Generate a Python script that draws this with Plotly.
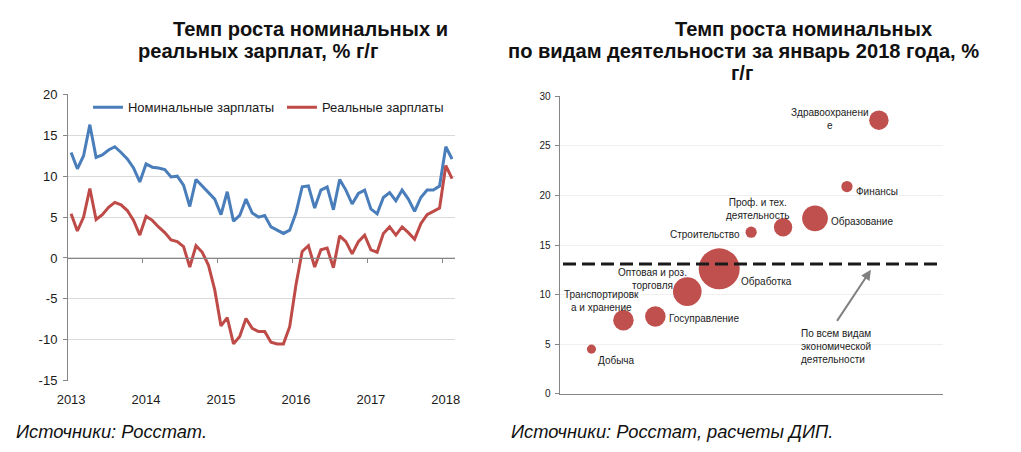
import plotly.graph_objects as go

# ---------------- data: left chart (monthly, Jan 2013 .. Feb 2018) ----------------
month_index = list(range(62))
year_tick_index = [0, 12, 24, 36, 48, 60]
year_labels = ["2013", "2014", "2015", "2016", "2017", "2018"]
year_boundary_index = [-0.5, 11.5, 23.5, 35.5, 47.5, 59.5]
left_y_ticks = [-15, -10, -5, 0, 5, 10, 15, 20]
left_y_labels = ["-15", "-10", "-5", "0", "5", "10", "15", "20"]

nominal_wages = [
    12.9, 10.9, 12.5, 16.3, 12.3, 12.6, 13.2, 13.6, 12.9, 12.1, 11.0, 9.3,
    11.5, 11.1, 11.0, 10.8, 9.9, 10.0, 8.9, 6.3, 9.6, 8.8, 7.9, 7.2,
    5.3, 8.1, 4.5, 5.2, 7.2, 5.5, 5.0, 5.2, 3.8, 3.4, 3.0, 3.4,
    5.5, 8.7, 8.8, 6.1, 8.3, 8.7, 5.9, 9.6, 8.3, 6.6, 7.9, 8.3,
    6.0, 5.4, 7.4, 8.0, 7.0, 8.3, 7.2, 5.7, 7.4, 8.3, 8.3, 8.8,
    13.6, 12.1,
]
real_wages = [
    5.4, 3.3, 5.0, 8.5, 4.7, 5.3, 6.2, 6.8, 6.5, 5.8, 4.6, 2.8,
    5.1, 4.6, 3.8, 3.1, 2.2, 2.0, 1.4, -1.1, 1.5, 0.7, -0.9, -3.9,
    -8.3, -7.3, -10.5, -9.6, -7.4, -8.6, -9.0, -9.0, -10.3, -10.5, -10.5, -8.4,
    -3.3, 0.8, 1.5, -1.1, 1.0, 1.2, -1.2, 2.7, 2.0, 0.5, 2.0, 2.8,
    1.0, 0.7, 3.0, 3.8, 2.8, 3.8, 3.1, 2.3, 4.2, 5.3, 5.7, 6.1,
    11.3, 9.7,
]

# ---------------- data: right chart (January 2018) ----------------
sector_names = [
    "Добыча", "Транспортировк<br>а и хранение", "Госуправление",
    "Оптовая и роз.<br>торговля", "Обработка", "Строительство",
    "Проф. и тех.<br>деятельность", "Образование", "Финансы",
    "Здравоохранени<br>е",
]
sector_rank = [1, 2, 3, 4, 5, 6, 7, 8, 9, 10]
sector_growth = [4.5, 7.4, 7.8, 10.3, 12.6, 16.3, 16.8, 17.7, 20.9, 27.6]
sector_weight = [0.8, 4.0, 4.0, 7.8, 16.0, 1.2, 3.2, 6.3, 1.2, 3.6]
all_sectors_growth = 13.1

# label placement (anchor, x shift px, y shift px) for each sector
label_anchor = ["left", "center", "left", "center", "left", "right", "center", "left", "left", "center"]
label_dx = [5, -22, 12, -35, 20, -9, -26, 14, 7, -49]
label_dy = [-11, 19, -2, 13, -13, -2, 18, -3, -5, 1]

W, H = 1021, 452
FONT = "Liberation Sans, Arial, sans-serif"
AXIS = "#868686"
BLUE = "#4A7EBB"
RED = "#BE4B48"
BUBBLE = "#C0504D"
TXT = "#1a1a1a"

# map a target pixel of the 1021x452 picture to paper coordinates
# (compensates the small scaling observed in the photographed page)
SX, OX = 0.9846, 11.0
SY, OY = 0.9658, 7.7

def px_x(t):
    return ((t - OX) / SX) / W

def px_y(t):
    return 1 - ((t - OY) / SY) / H

fig = go.Figure()

fig.add_trace(go.Scatter(x=month_index, y=nominal_wages, mode="lines",
                         name="Номинальные зарплаты",
                         line=dict(color=BLUE, width=3), xaxis="x", yaxis="y"))
fig.add_trace(go.Scatter(x=month_index, y=real_wages, mode="lines",
                         name="Реальные зарплаты",
                         line=dict(color=RED, width=3), xaxis="x", yaxis="y"))
# helper (invisible) trace so that the zero-crossing axis is drawn
fig.add_trace(go.Scatter(x=[None], y=[None], xaxis="x3", yaxis="y",
                         showlegend=False, hoverinfo="skip"))

max_bubble_px = 41
fig.add_trace(go.Scatter(
    x=sector_rank, y=sector_growth, mode="markers", showlegend=False,
    marker=dict(size=sector_weight, sizemode="area",
                sizeref=2.0 * max(sector_weight) / max_bubble_px ** 2,
                color=BUBBLE, line=dict(width=0), opacity=1),
    xaxis="x2", yaxis="y2"))

left_dom_x = [px_x(68), px_x(455)]
left_dom_y = [px_y(381), px_y(95)]
right_dom_x = [px_x(559.7), px_x(943)]
right_dom_y = [px_y(394), px_y(97)]

y_lo, y_hi = -15, 20
zero_pos = left_dom_y[0] + (0 - y_lo) / (y_hi - y_lo) * (left_dom_y[1] - left_dom_y[0])

fig.update_layout(
    width=W, height=H, autosize=False,
    margin=dict(l=0, r=0, t=0, b=0),
    paper_bgcolor="white", plot_bgcolor="white",
    font=dict(family=FONT, color=TXT),
    showlegend=True,
    legend=dict(orientation="h", x=px_x(88), y=px_y(108), xanchor="left", yanchor="middle",
                font=dict(size=13, family=FONT, color=TXT),
                bgcolor="rgba(0,0,0,0)", itemwidth=30,
                entrywidth=149, entrywidthmode="pixels", tracegroupgap=0),
    xaxis=dict(domain=left_dom_x, range=[-0.5, 61.45], anchor="y",
               tickvals=year_tick_index, ticktext=year_labels,
               showgrid=False, showline=False, zeroline=False, ticks="",
               ticklabelstandoff=9,
               tickfont=dict(size=13, family=FONT, color=TXT)),
    xaxis3=dict(domain=left_dom_x, range=[-0.5, 61.45], overlaying="x",
                anchor="free", position=zero_pos,
                showline=True, linecolor=AXIS, linewidth=1,
                ticks="outside", ticklen=4, tickcolor=AXIS,
                tickvals=year_boundary_index, showticklabels=False,
                showgrid=False, zeroline=False),
    yaxis=dict(domain=left_dom_y, range=[y_lo, y_hi], anchor="x",
               tickvals=left_y_ticks, ticktext=left_y_labels,
               showgrid=True, gridcolor="#D9D9D9", gridwidth=1,
               showline=True, linecolor=AXIS, linewidth=1,
               ticks="outside", ticklen=4, tickcolor=AXIS,
               zeroline=False, ticklabelstandoff=3,
               tickfont=dict(size=13, family=FONT, color=TXT)),
    xaxis2=dict(domain=right_dom_x, range=[0, 12], anchor="y2",
                showticklabels=False, showgrid=False, zeroline=False,
                showline=True, linecolor=AXIS, linewidth=1, ticks=""),
    yaxis2=dict(domain=right_dom_y, range=[0, 30], dtick=5, anchor="x2",
                showgrid=True, gridcolor="#F0F0F0", gridwidth=1,
                showline=True, linecolor=AXIS, linewidth=1,
                ticks="outside", ticklen=4, tickcolor=AXIS,
                zeroline=False, ticklabelstandoff=2,
                tickfont=dict(size=10, family=FONT, color=TXT)),
)

# dashed line: growth over all kinds of activity
fig.add_shape(type="line", xref="x2 domain", yref="y2",
              x0=0.009, x1=0.992, y0=all_sectors_growth, y1=all_sectors_growth,
              line=dict(color=TXT, width=3, dash="13px,6px"))

annotations = []
for name, xv, yv, anc, dx, dy in zip(sector_names, sector_rank, sector_growth,
                                     label_anchor, label_dx, label_dy):
    annotations.append(dict(x=xv, y=yv, xref="x2", yref="y2", text=name,
                            showarrow=False, xanchor=anc, yanchor="middle",
                            align="center", xshift=dx, yshift=dy,
                            font=dict(size=10, family=FONT, color=TXT)))

# arrow pointing at the dashed line
annotations.append(dict(x=9.75, y=all_sectors_growth - 0.6, xref="x2", yref="y2",
                        ax=8.66, ay=7.2, axref="x2", ayref="y2", text="",
                        showarrow=True, arrowhead=2, arrowsize=1, arrowwidth=2,
                        arrowcolor="#808080"))
annotations.append(dict(x=px_x(799), y=px_y(347), xref="paper", yref="paper",
                        text="По всем видам<br>экономической<br>деятельности",
                        showarrow=False, xanchor="left", yanchor="middle", align="left",
                        font=dict(size=10, family=FONT, color=TXT)))

# titles
title_font = dict(size=20.1, family=FONT, color="#111111")
for txt, cx, cy in [("<b>Темп роста номинальных и</b>", 310.5, 30),
                    ("<b>реальных зарплат, % г/г</b>", 258, 52),
                    ("<b>Темп роста номинальных</b>", 804, 30),
                    ("<b>по видам деятельности за январь 2018 года, %</b>", 744, 52),
                    ("<b>г/г</b>", 742.5, 74)]:
    annotations.append(dict(x=px_x(cx), y=px_y(cy), xref="paper", yref="paper",
                            text=txt, showarrow=False, xanchor="center", yanchor="middle",
                            font=title_font))

# sources
src_font = dict(size=18.3, family=FONT, color="#111111")
annotations.append(dict(x=px_x(14), y=px_y(432), xref="paper", yref="paper",
                        text="<i>Источники: Росстат.</i>", showarrow=False,
                        xanchor="left", yanchor="middle", font=src_font))
annotations.append(dict(x=px_x(509), y=px_y(432), xref="paper", yref="paper",
                        text="<i>Источники: Росстат, расчеты ДИП.</i>", showarrow=False,
                        xanchor="left", yanchor="middle", font=src_font))

fig.update_layout(annotations=annotations)

fig.write_html("out.html", config={"displayModeBar": False},
               post_script="document.body.style.margin='0';")
